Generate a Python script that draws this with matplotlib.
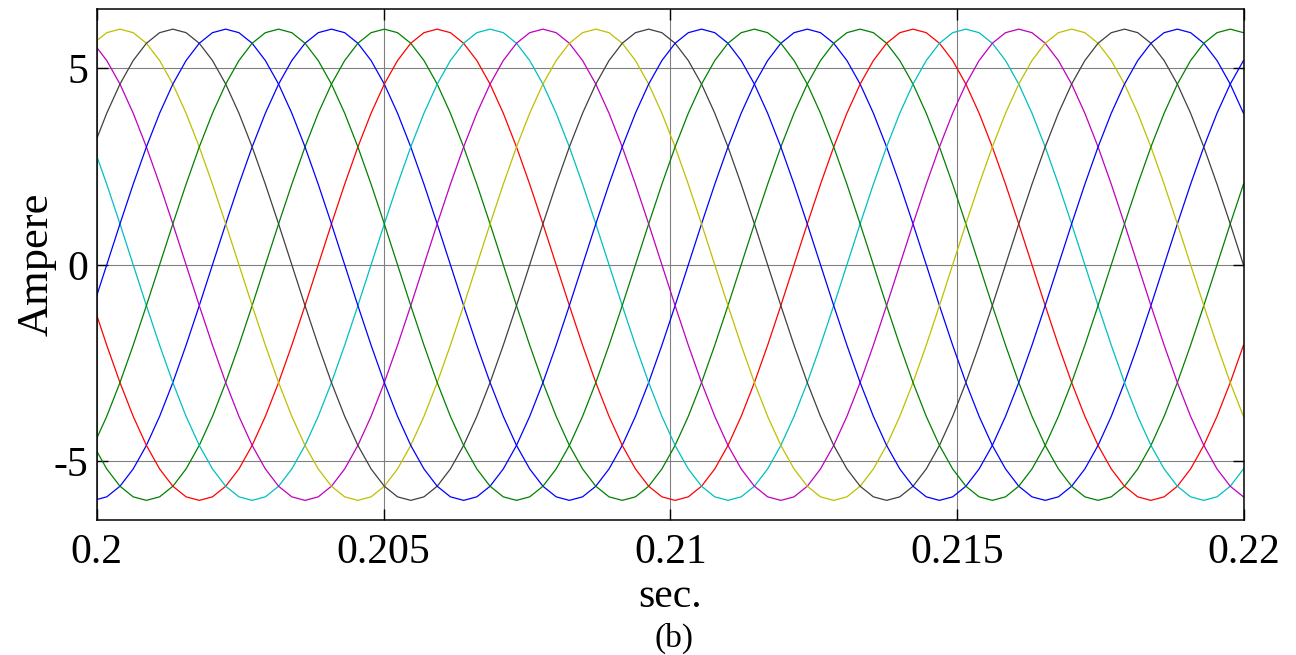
import numpy as np
import matplotlib
matplotlib.use("Agg")
import matplotlib.pyplot as plt

plt.rcParams['font.family'] = ['Liberation Serif', 'DejaVu Serif']

# sampling grid (10 deg steps of a ~120.6 Hz wave)
t0 = 0.1999452
dt = 0.0002304

# phase currents, values read at each sample (A)
ia1 = [-6.00, -5.91, -5.64, -5.20, -4.60, -3.86, -3.00, -2.05,
       -1.04, 0.00, 1.04, 2.05, 3.00, 3.86, 4.60, 5.20,
       5.64, 5.91, 6.00, 5.91, 5.64, 5.20, 4.60, 3.86,
       3.00, 2.05, 1.04, 0.00, -1.04, -2.05, -3.00, -3.86,
       -4.60, -5.20, -5.64, -5.91, -6.00, -5.91, -5.64, -5.20,
       -4.60, -3.86, -3.00, -2.05, -1.04, 0.00, 1.04, 2.05,
       3.00, 3.86, 4.60, 5.20, 5.64, 5.91, 6.00, 5.91,
       5.64, 5.20, 4.60, 3.86, 3.00, 2.05, 1.04, 0.00,
       -1.04, -2.05, -3.00, -3.86, -4.60, -5.20, -5.64, -5.91,
       -6.00, -5.91, -5.64, -5.20, -4.60, -3.86, -3.00, -2.05,
       -1.04, 0.00, 1.04, 2.05, 3.00, 3.86, 4.60, 5.20]
ia2 = [-4.60, -5.20, -5.64, -5.91, -6.00, -5.91, -5.64, -5.20,
       -4.60, -3.86, -3.00, -2.05, -1.04, 0.00, 1.04, 2.05,
       3.00, 3.86, 4.60, 5.20, 5.64, 5.91, 6.00, 5.91,
       5.64, 5.20, 4.60, 3.86, 3.00, 2.05, 1.04, 0.00,
       -1.04, -2.05, -3.00, -3.86, -4.60, -5.20, -5.64, -5.91,
       -6.00, -5.91, -5.64, -5.20, -4.60, -3.86, -3.00, -2.05,
       -1.04, 0.00, 1.04, 2.05, 3.00, 3.86, 4.60, 5.20,
       5.64, 5.91, 6.00, 5.91, 5.64, 5.20, 4.60, 3.86,
       3.00, 2.05, 1.04, 0.00, -1.04, -2.05, -3.00, -3.86,
       -4.60, -5.20, -5.64, -5.91, -6.00, -5.91, -5.64, -5.20,
       -4.60, -3.86, -3.00, -2.05, -1.04, 0.00, 1.04, 2.05]
ia3 = [-1.04, -2.05, -3.00, -3.86, -4.60, -5.20, -5.64, -5.91,
       -6.00, -5.91, -5.64, -5.20, -4.60, -3.86, -3.00, -2.05,
       -1.04, 0.00, 1.04, 2.05, 3.00, 3.86, 4.60, 5.20,
       5.64, 5.91, 6.00, 5.91, 5.64, 5.20, 4.60, 3.86,
       3.00, 2.05, 1.04, 0.00, -1.04, -2.05, -3.00, -3.86,
       -4.60, -5.20, -5.64, -5.91, -6.00, -5.91, -5.64, -5.20,
       -4.60, -3.86, -3.00, -2.05, -1.04, 0.00, 1.04, 2.05,
       3.00, 3.86, 4.60, 5.20, 5.64, 5.91, 6.00, 5.91,
       5.64, 5.20, 4.60, 3.86, 3.00, 2.05, 1.04, 0.00,
       -1.04, -2.05, -3.00, -3.86, -4.60, -5.20, -5.64, -5.91,
       -6.00, -5.91, -5.64, -5.20, -4.60, -3.86, -3.00, -2.05]
ia4 = [3.00, 2.05, 1.04, 0.00, -1.04, -2.05, -3.00, -3.86,
       -4.60, -5.20, -5.64, -5.91, -6.00, -5.91, -5.64, -5.20,
       -4.60, -3.86, -3.00, -2.05, -1.04, 0.00, 1.04, 2.05,
       3.00, 3.86, 4.60, 5.20, 5.64, 5.91, 6.00, 5.91,
       5.64, 5.20, 4.60, 3.86, 3.00, 2.05, 1.04, 0.00,
       -1.04, -2.05, -3.00, -3.86, -4.60, -5.20, -5.64, -5.91,
       -6.00, -5.91, -5.64, -5.20, -4.60, -3.86, -3.00, -2.05,
       -1.04, 0.00, 1.04, 2.05, 3.00, 3.86, 4.60, 5.20,
       5.64, 5.91, 6.00, 5.91, 5.64, 5.20, 4.60, 3.86,
       3.00, 2.05, 1.04, 0.00, -1.04, -2.05, -3.00, -3.86,
       -4.60, -5.20, -5.64, -5.91, -6.00, -5.91, -5.64, -5.20]
ia5 = [5.64, 5.20, 4.60, 3.86, 3.00, 2.05, 1.04, 0.00,
       -1.04, -2.05, -3.00, -3.86, -4.60, -5.20, -5.64, -5.91,
       -6.00, -5.91, -5.64, -5.20, -4.60, -3.86, -3.00, -2.05,
       -1.04, 0.00, 1.04, 2.05, 3.00, 3.86, 4.60, 5.20,
       5.64, 5.91, 6.00, 5.91, 5.64, 5.20, 4.60, 3.86,
       3.00, 2.05, 1.04, 0.00, -1.04, -2.05, -3.00, -3.86,
       -4.60, -5.20, -5.64, -5.91, -6.00, -5.91, -5.64, -5.20,
       -4.60, -3.86, -3.00, -2.05, -1.04, 0.00, 1.04, 2.05,
       3.00, 3.86, 4.60, 5.20, 5.64, 5.91, 6.00, 5.91,
       5.64, 5.20, 4.60, 3.86, 3.00, 2.05, 1.04, 0.00,
       -1.04, -2.05, -3.00, -3.86, -4.60, -5.20, -5.64, -5.91]
ia6 = [5.64, 5.91, 6.00, 5.91, 5.64, 5.20, 4.60, 3.86,
       3.00, 2.05, 1.04, 0.00, -1.04, -2.05, -3.00, -3.86,
       -4.60, -5.20, -5.64, -5.91, -6.00, -5.91, -5.64, -5.20,
       -4.60, -3.86, -3.00, -2.05, -1.04, 0.00, 1.04, 2.05,
       3.00, 3.86, 4.60, 5.20, 5.64, 5.91, 6.00, 5.91,
       5.64, 5.20, 4.60, 3.86, 3.00, 2.05, 1.04, 0.00,
       -1.04, -2.05, -3.00, -3.86, -4.60, -5.20, -5.64, -5.91,
       -6.00, -5.91, -5.64, -5.20, -4.60, -3.86, -3.00, -2.05,
       -1.04, 0.00, 1.04, 2.05, 3.00, 3.86, 4.60, 5.20,
       5.64, 5.91, 6.00, 5.91, 5.64, 5.20, 4.60, 3.86,
       3.00, 2.05, 1.04, 0.00, -1.04, -2.05, -3.00, -3.86]
ia7 = [3.00, 3.86, 4.60, 5.20, 5.64, 5.91, 6.00, 5.91,
       5.64, 5.20, 4.60, 3.86, 3.00, 2.05, 1.04, 0.00,
       -1.04, -2.05, -3.00, -3.86, -4.60, -5.20, -5.64, -5.91,
       -6.00, -5.91, -5.64, -5.20, -4.60, -3.86, -3.00, -2.05,
       -1.04, 0.00, 1.04, 2.05, 3.00, 3.86, 4.60, 5.20,
       5.64, 5.91, 6.00, 5.91, 5.64, 5.20, 4.60, 3.86,
       3.00, 2.05, 1.04, 0.00, -1.04, -2.05, -3.00, -3.86,
       -4.60, -5.20, -5.64, -5.91, -6.00, -5.91, -5.64, -5.20,
       -4.60, -3.86, -3.00, -2.05, -1.04, 0.00, 1.04, 2.05,
       3.00, 3.86, 4.60, 5.20, 5.64, 5.91, 6.00, 5.91,
       5.64, 5.20, 4.60, 3.86, 3.00, 2.05, 1.04, 0.00]
ia8 = [-1.04, 0.00, 1.04, 2.05, 3.00, 3.86, 4.60, 5.20,
       5.64, 5.91, 6.00, 5.91, 5.64, 5.20, 4.60, 3.86,
       3.00, 2.05, 1.04, 0.00, -1.04, -2.05, -3.00, -3.86,
       -4.60, -5.20, -5.64, -5.91, -6.00, -5.91, -5.64, -5.20,
       -4.60, -3.86, -3.00, -2.05, -1.04, 0.00, 1.04, 2.05,
       3.00, 3.86, 4.60, 5.20, 5.64, 5.91, 6.00, 5.91,
       5.64, 5.20, 4.60, 3.86, 3.00, 2.05, 1.04, 0.00,
       -1.04, -2.05, -3.00, -3.86, -4.60, -5.20, -5.64, -5.91,
       -6.00, -5.91, -5.64, -5.20, -4.60, -3.86, -3.00, -2.05,
       -1.04, 0.00, 1.04, 2.05, 3.00, 3.86, 4.60, 5.20,
       5.64, 5.91, 6.00, 5.91, 5.64, 5.20, 4.60, 3.86]
ia9 = [-4.60, -3.86, -3.00, -2.05, -1.04, 0.00, 1.04, 2.05,
       3.00, 3.86, 4.60, 5.20, 5.64, 5.91, 6.00, 5.91,
       5.64, 5.20, 4.60, 3.86, 3.00, 2.05, 1.04, 0.00,
       -1.04, -2.05, -3.00, -3.86, -4.60, -5.20, -5.64, -5.91,
       -6.00, -5.91, -5.64, -5.20, -4.60, -3.86, -3.00, -2.05,
       -1.04, 0.00, 1.04, 2.05, 3.00, 3.86, 4.60, 5.20,
       5.64, 5.91, 6.00, 5.91, 5.64, 5.20, 4.60, 3.86,
       3.00, 2.05, 1.04, 0.00, -1.04, -2.05, -3.00, -3.86,
       -4.60, -5.20, -5.64, -5.91, -6.00, -5.91, -5.64, -5.20,
       -4.60, -3.86, -3.00, -2.05, -1.04, 0.00, 1.04, 2.05,
       3.00, 3.86, 4.60, 5.20, 5.64, 5.91, 6.00, 5.91]

phases = [ia1, ia2, ia3, ia4, ia5, ia6, ia7, ia8, ia9]
# old matlab colour order: b g r c m y k, then b g again
colors = ['#0000ff', '#008000', '#ff0000', '#00bfbf', '#bf00bf',
          '#bfbf00', '#404040', '#0000ff', '#008000']

x_ticks = [0.2, 0.205, 0.21, 0.215, 0.22]
x_ticklabels = ['0.2', '0.205', '0.21', '0.215', '0.22']
y_ticks = [-5, 0, 5]
y_ticklabels = ['-5', '0', '5']

fig = plt.figure(figsize=(12.96, 6.55), dpi=100)
ax = fig.add_axes([0.0746, 0.2061, 0.8853, 0.7794])

t = t0 + dt * np.arange(len(ia1))
for cur, col in zip(phases, colors):
    ax.plot(t, cur, color=col, lw=0.9)

ax.set_xlim(0.2, 0.22)
ax.set_ylim(-6.5, 6.5)
ax.set_xticks(x_ticks)
ax.set_xticklabels(x_ticklabels)
ax.set_yticks(y_ticks)
ax.set_yticklabels(y_ticklabels)
ax.grid(True, color='0.5', lw=0.8)
ax.set_axisbelow(True)
ax.tick_params(direction='in', length=8, width=1, top=True, right=True,
               labelsize=30)
ax.tick_params(axis='x', pad=10)
ax.tick_params(axis='y', pad=6)
for sp in ax.spines.values():
    sp.set_linewidth(1.1)

ax.set_xlabel('sec.', fontsize=30, labelpad=4)
ax.set_ylabel('Ampere', fontsize=32, labelpad=-2)
fig.text(0.520, 0.026, '(b)', fontsize=24, ha='center', va='center')

fig.savefig('out.png', dpi=100)
